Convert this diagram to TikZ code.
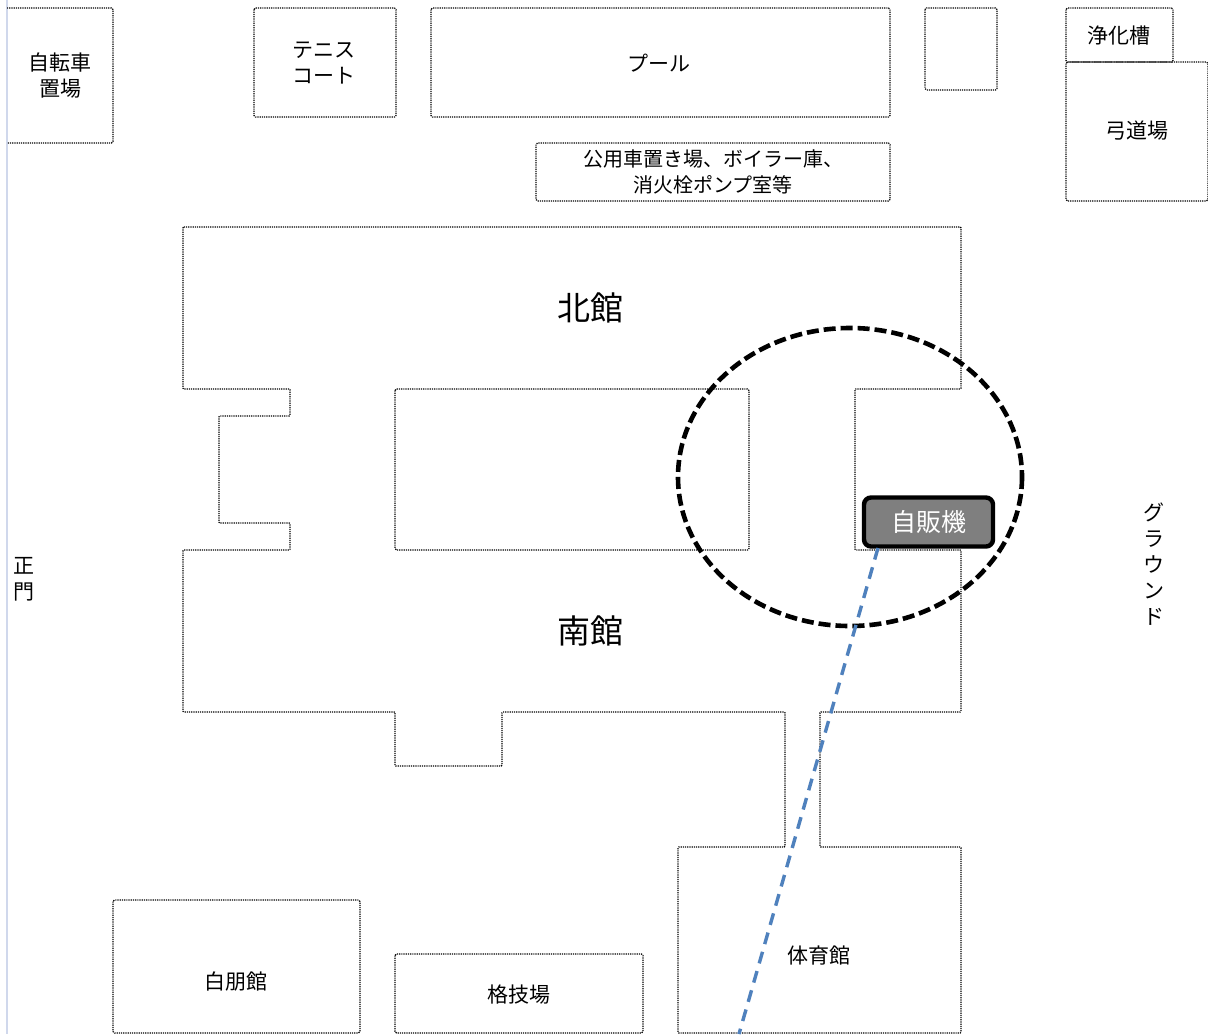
\documentclass[tikz,border=0pt]{standalone}
\usepackage{fontspec}
\setmainfont{Noto Sans CJK JP}
\definecolor{sidebar}{HTML}{D0D8EC}
\definecolor{bluedash}{HTML}{4F81BD}
\definecolor{vendfill}{HTML}{7F7F7F}
\tikzset{
  plan/.style={draw=black,line width=1.35pt,dash pattern=on 1.2pt off 1pt,fill=none,rounded corners=1.5pt},
  lbl/.style={inner sep=0pt,align=center,text=black,font=\fontsize{21}{26}\selectfont},
  biglbl/.style={inner sep=0pt,align=center,text=black,font=\fontsize{33}{36}\selectfont},
  vend/.style={draw=black,line width=4.4pt,fill=vendfill,rounded corners=7pt,text=white,inner sep=0pt,
    minimum width=129pt,minimum height=49pt,font=\fontsize{25}{26}\selectfont},
  zone/.style={draw=black,line width=4.6pt,dash pattern=on 12pt off 5pt},
  leader/.style={draw=bluedash,line width=3.4pt,dash pattern=on 12pt off 8pt},
}
\begin{document}
\begin{tikzpicture}[x=1pt,y=-1pt]
\useasboundingbox (0,0) rectangle (1208,1034);
\fill[white] (0,0) rectangle (1208,1034);
\draw[sidebar,line width=1.6pt] (7,0) -- (7,1034);
% detached facilities
\draw[plan] (7,8) -- (113,8) -- (113,143) -- (7,143);
\draw[plan] (254,8) rectangle (396,117);
\draw[plan] (431,8) rectangle (890,117);
\draw[plan] (925,8) rectangle (997,90);
\draw[plan] (1066,8) rectangle (1173,62);
\draw[plan] (1066,62) rectangle (1208,201);
\draw[plan] (536,143) rectangle (890,201);
% main building
\draw[plan,rounded corners=0.8pt] (183,227) -- (961,227) -- (961,389) -- (855,389) -- (855,550) -- (961,550)
  -- (961,712) -- (820,712) -- (820,847) -- (961,847) -- (961,1033) -- (678,1033) -- (678,847)
  -- (785,847) -- (785,712) -- (502,712) -- (502,766) -- (395,766) -- (395,712) -- (183,712)
  -- (183,550) -- (290,550) -- (290,523) -- (219,523) -- (219,416) -- (290,416) -- (290,389)
  -- (183,389) -- cycle;
\draw[plan] (395,389) rectangle (749,550);
\draw[plan] (113,900) rectangle (360,1033);
\draw[plan] (395,954) rectangle (643,1033);
% labels
\node[lbl] (bike) at (60,76) {自転車\\置場};
\node[lbl] (tennis) at (324,63) {テニス\\コート};
\node[lbl] (pool) at (659,63) {プール};
\node[lbl] (septic) at (1119,36) {浄化槽};
\node[lbl] (kyudo) at (1137,131) {弓道場};
\node[lbl,font=\fontsize{20}{26}\selectfont] (garage) at (713,172) {公用車置き場、ボイラー庫、\\消火栓ポンプ室等};
\node[biglbl] (north) at (590,308) {北館};
\node[biglbl] (south) at (590,631) {南館};
\node[lbl] (gate) at (24,579) {正\\門};
\node[lbl] (ground) at (1154,564) {グ\\ラ\\ウ\\ン\\ド};
\node[lbl] (gym) at (819,955) {体育館};
\node[lbl] (hakuho) at (236,981) {白朋館};
\node[lbl] (budo) at (519,995) {格技場};
% vending machine, zone and leader
\coordinate (leaderend) at (739,1034);
\draw[zone] (850,477) ellipse [x radius=172,y radius=149];
\node[vend] (vm) at (928.5,522) {自販機};
\draw[leader] (878,548) -- (leaderend);
\end{tikzpicture}
\end{document}
